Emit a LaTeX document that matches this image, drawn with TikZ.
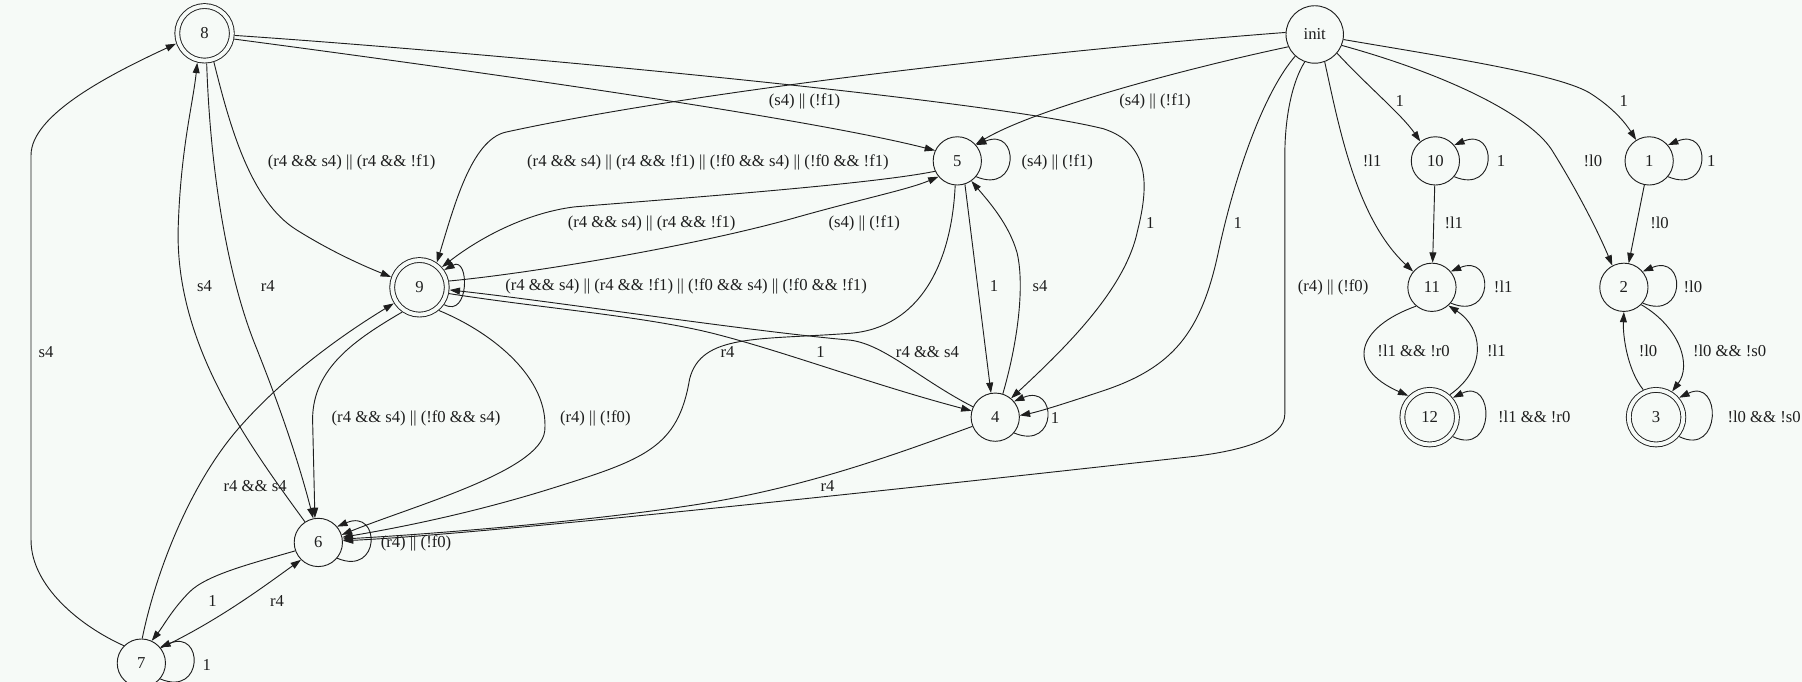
\documentclass[tikz,border=0pt]{standalone}
\usepackage{fontspec}
\setmainfont{Liberation Serif}
\usetikzlibrary{arrows.meta}
\definecolor{bgc}{RGB}{246,250,247}
\definecolor{ink}{RGB}{30,30,30}
\begin{document}
\begin{tikzpicture}[x=1pt,y=-1pt,
  every node/.style={font=\fontsize{14.5}{16}\selectfont, text=ink},
  st/.style={circle, draw=ink, line width=0.8pt, minimum size=42pt, inner sep=0pt},
  acc/.style={st, minimum size=47.5pt, double=bgc, double distance=3.4pt, outer sep=2.6pt},
  ed/.style={draw=ink, line width=0.8pt, -{Triangle[length=9pt,width=6pt]}},
  lb/.style={inner sep=1pt}]
\useasboundingbox (0,0) rectangle (1568,593);
\clip (0,0) rectangle (1568,593);
\fill[bgc] (0,0) rectangle (1568,593);
% nodes
\node[acc] (n8) at (178,29) {8};
\node[st, minimum size=50pt] (init) at (1144,30) {init};
\node[st] (n5) at (833,140) {5};
\node[st] (n10) at (1249,140) {10};
\node[st] (n1) at (1435,140) {1};
\node[acc] (n9) at (365,250) {9};
\node[st] (n11) at (1246,250) {11};
\node[st] (n2) at (1413,250) {2};
\node[st] (n4) at (866,363) {4};
\node[acc] (n12) at (1244,363) {12};
\node[acc] (n3) at (1441,363) {3};
\node[st] (n6) at (277,472) {6};
\node[st] (n7) at (123,577) {7};
% edges from 7 and 8
\draw[ed] (n7.135) .. controls (70,545) and (27,510) .. (27,470) -- (27,135) .. controls (27,100) and (95,65) .. (n8.200);
\draw[ed] (n6.123) .. controls (215,385) and (153,300) .. (155,200) .. controls (157,130) and (168,90) .. (n8.-104);
\draw[ed] (n8.-86) .. controls (183,150) and (198,240) .. (222,300) .. controls (248,365) and (262,410) .. (n6.102);
\draw[ed] (n8.-72) .. controls (200,110) and (218,175) .. (258,200) .. controls (290,220) and (318,232) .. (n9.160);
\draw[ed] (n8.-11) .. controls (400,60) and (700,102) .. (n5.155);
\draw[ed] (n8.-4) .. controls (400,44) and (850,85) .. (960,112) .. controls (1000,125) and (1000,160) .. (990,200) .. controls (980,250) and (930,300) .. (n4.50);
% edges from init
\draw[ed] (init.176) .. controls (900,45) and (600,80) .. (440,115) .. controls (410,122) and (395,180) .. (n9.55);
\draw[ed] (init.205) .. controls (1030,60) and (900,95) .. (n5.42);
\draw[ed] (init.228) .. controls (1100,80) and (1075,150) .. (1060,220) .. controls (1045,290) and (1020,320) .. (960,340) .. controls (930,350) and (905,358) .. (n4.4);
\draw[ed] (init.250) .. controls (1125,70) and (1118,100) .. (1118,135) -- (1118,360) .. controls (1118,382) and (1080,392) .. (1040,397) .. controls (700,435) and (400,466) .. (n6.4);
\draw[ed] (init.-40) .. controls (1190,75) and (1220,100) .. (n10.128);
\draw[ed] (init.-70) .. controls (1165,110) and (1180,190) .. (n11.140);
\draw[ed] (init.-22) .. controls (1260,65) and (1330,100) .. (1350,130) .. controls (1375,170) and (1392,205) .. (n2.118);
\draw[ed] (init.-10) .. controls (1260,50) and (1360,65) .. (1385,82) .. controls (1405,95) and (1415,108) .. (n1.122);
% right part
\draw[ed] (n10.-40) .. controls +(38,16) and +(38,-16) .. (n10.40);
\draw[ed] (n1.-40) .. controls +(38,16) and +(38,-16) .. (n1.40);
\draw[ed] (n11.-40) .. controls +(38,16) and +(38,-16) .. (n11.40);
\draw[ed] (n2.-40) .. controls +(38,16) and +(38,-16) .. (n2.40);
\draw[ed] (n12.-40) .. controls +(37,18) and +(37,-18) .. (n12.40);
\draw[ed] (n3.-40) .. controls +(37,18) and +(37,-18) .. (n3.40);
\draw[ed] (n10) -- (n11);
\draw[ed] (n11.-130) .. controls (1180,285) and (1170,320) .. (n12.135);
\draw[ed] (n12.48) .. controls (1295,320) and (1290,285) .. (n11.-48);
\draw[ed] (n1) -- (n2);
\draw[ed] (n2.-45) .. controls (1462,285) and (1472,318) .. (n3.58);
\draw[ed] (n3.115) .. controls (1416,322) and (1412,292) .. (n2.-90);
% middle
\draw[ed] (n5.-40) .. controls +(38,16) and +(38,-16) .. (n5.40);
\draw[ed] (n4.-40) .. controls +(38,16) and +(38,-16) .. (n4.40);
\draw[ed] (n5.-72) -- (n4.100);
\draw[ed] (n4.72) .. controls (885,300) and (892,250) .. (885,220) .. controls (878,195) and (860,175) .. (n5.-55);
\draw[ed] (n9.-12) .. controls (470,268) and (560,275) .. (620,290) .. controls (680,305) and (760,335) .. (n4.165);
\draw[ed] (n4.155) .. controls (800,330) and (770,300) .. (740,296) .. controls (650,288) and (480,262) .. (n9.-5);
\draw[ed] (n9.12) .. controls (460,238) and (600,215) .. (690,190) .. controls (750,173) and (790,165) .. (n5.-140);
\draw[ed] (n5.-155) .. controls (760,160) and (600,172) .. (500,180) .. controls (460,185) and (420,205) .. (n9.42);
\draw[ed] (n9.-35) .. controls +(22,12) and +(22,-12) .. (n9.35);
\draw[ed] (n9.-125) .. controls (310,295) and (272,320) .. (272,365) -- (n6.98);
\draw[ed] (n9.-50) .. controls (430,290) and (478,330) .. (474,375) .. controls (470,410) and (360,440) .. (n6.18);
\draw[ed] (n5.-95) .. controls (828,230) and (800,285) .. (740,290) .. controls (660,296) and (610,290) .. (600,330) .. controls (590,390) and (560,400) .. (480,425) .. controls (400,450) and (330,462) .. (n6.12);
\draw[ed] (n4.-158) .. controls (780,395) and (700,425) .. (600,440) .. controls (500,455) and (370,465) .. (n6.8);
\draw[ed] (n6.-40) .. controls +(38,16) and +(38,-16) .. (n6.40);
\draw[ed] (n6.-160) .. controls (220,490) and (180,500) .. (165,515) .. controls (150,530) and (142,545) .. (n7.65);
\draw[ed] (n7.38) .. controls (190,540) and (230,510) .. (n6.-135);
\draw[ed] (n7.88) .. controls (135,500) and (165,420) .. (210,370) .. controls (250,325) and (300,290) .. (n9.-148);
\draw[ed] (n7.-40) .. controls +(38,16) and +(38,-16) .. (n7.40);
% labels
\node[lb] (l1) at (40,306) {s4};
\node[lb] (l2) at (178,249) {s4};
\node[lb] (l3) at (233,249) {r4};
\node[lb] (l4) at (306,141) {(r4 \&\& s4) || (r4 \&\& !f1)};
\node[lb] (l5) at (700,88) {(s4) || (!f1)};
\node[lb] (l6) at (1001,194) {1};
\node[lb] (l7) at (616,141) {(r4 \&\& s4) || (r4 \&\& !f1) || (!f0 \&\& s4) || (!f0 \&\& !f1)};
\node[lb] (l8) at (1005,88) {(s4) || (!f1)};
\node[lb] (l9) at (1077,194) {1};
\node[lb] (l10) at (1160,250) {(r4) || (!f0)};
\node[lb] (l11) at (1218,88) {1};
\node[lb] (l12) at (1194,140) {!l1};
\node[lb] (l13) at (1386,140) {!l0};
\node[lb] (l14) at (1413,88) {1};
\node[lb] (l15) at (1306,140) {1};
\node[lb] (l16) at (1489,140) {1};
\node[lb] (l17) at (1265,194) {!l1};
\node[lb] (l18) at (1444,194) {!l0};
\node[lb] (l19) at (1308,250) {!l1};
\node[lb] (l20) at (1473,250) {!l0};
\node[lb] (l21) at (1230,305) {!l1 \&\& !r0};
\node[lb] (l22) at (1302,305) {!l1};
\node[lb] (l23) at (1434,305) {!l0};
\node[lb] (l24) at (1505,305) {!l0 \&\& !s0};
\node[lb] (l25) at (1335,363) {!l1 \&\& !r0};
\node[lb] (l26) at (1535,363) {!l0 \&\& !s0};
\node[lb] (l27) at (920,141) {(s4) || (!f1)};
\node[lb] (l28) at (865,249) {1};
\node[lb] (l29) at (905,249) {s4};
\node[lb] (l30) at (918,364) {1};
\node[lb] (l31) at (714,306) {1};
\node[lb] (l32) at (807,306) {r4 \&\& s4};
\node[lb] (l33) at (752,194) {(s4) || (!f1)};
\node[lb] (l34) at (567,194) {(r4 \&\& s4) || (r4 \&\& !f1)};
\node[lb] (l35) at (597,249) {(r4 \&\& s4) || (r4 \&\& !f1) || (!f0 \&\& s4) || (!f0 \&\& !f1)};
\node[lb] (l36) at (362,364) {(r4 \&\& s4) || (!f0 \&\& s4)};
\node[lb] (l37) at (518,364) {(r4) || (!f0)};
\node[lb] (l38) at (633,306) {r4};
\node[lb] (l39) at (720,423) {r4};
\node[lb] (l40) at (362,473) {(r4) || (!f0)};
\node[lb] (l41) at (185,523) {1};
\node[lb] (l42) at (241,523) {r4};
\node[lb] (l43) at (222,423) {r4 \&\& s4};
\node[lb] (l44) at (180,579) {1};
\end{tikzpicture}
\end{document}
